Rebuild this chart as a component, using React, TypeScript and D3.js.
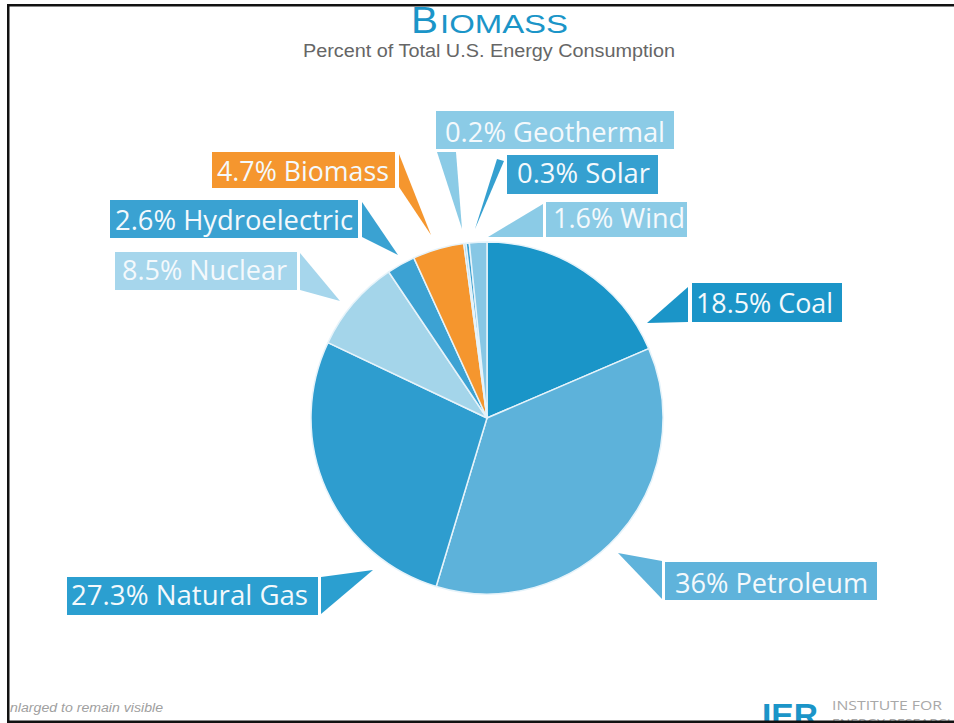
import React from "react";
import * as d3 from "d3";

const categories = ["Coal", "Petroleum", "Natural Gas", "Nuclear", "Hydroelectric", "Biomass", "Geothermal", "Solar", "Wind"];
const values = [18.5, 36, 27.3, 8.5, 2.6, 4.7, 0.2, 0.3, 1.6];
const sliceColors = ["#1a95c8", "#5db2da", "#2e9dcf", "#a4d5ea", "#3ca2d3", "#f5962e", "#8ecde8", "#3aa0d0", "#87c7e5"];
const labelColors = ["#1b95c8", "#5fb3db", "#2b9fd0", "#a6d6ec", "#3aa2d2", "#f5962e", "#8bcbe6", "#35a0d0", "#8bcbe6"];

// label layout: box, text placement, pointer polygon (base1, base2, tip)
const labelLayout = [
  { x: 692, y: 283, w: 150, h: 39, tx: 696, ty: 313, tw: 137, ptr: [[688, 287], [688, 322], [647, 323]] },
  { x: 665, y: 562, w: 212, h: 38, tx: 675, ty: 593, tw: 193, ptr: [[662, 561], [662, 599], [618, 553]] },
  { x: 67, y: 577, w: 251, h: 38, tx: 71, ty: 605, tw: 237, ptr: [[321, 577], [321, 614], [373, 570]] },
  { x: 115, y: 252, w: 182, h: 38, tx: 122, ty: 280, tw: 165, ptr: [[300, 253], [300, 290], [340, 301]] },
  { x: 110, y: 200, w: 248, h: 38, tx: 115, ty: 230, tw: 238, ptr: [[362, 202], [362, 237], [398, 255]] },
  { x: 212, y: 152, w: 183, h: 36, tx: 217, ty: 181, tw: 172, ptr: [[399, 154], [399, 187], [431, 235]] },
  { x: 436, y: 111, w: 238, h: 38, tx: 445, ty: 142, tw: 220, ptr: [[437, 152], [456, 152], [462, 229]] },
  { x: 507, y: 155, w: 151, h: 39, tx: 517, ty: 183, tw: 133, ptr: [[497, 159], [504, 161], [475, 229]] },
  { x: 546, y: 202, w: 141, h: 35, tx: 553, ty: 228, tw: 132, ptr: [[543, 204], [543, 237], [488, 237]] },
];

const W = 954;
const H = 723;
const cx = 487;
const cy = 418;
const R = 176;

export default function App() {
  const pie = d3.pie<number>().sort(null).value((d) => d).startAngle(0).endAngle(2 * Math.PI);
  const arcs = pie(values);
  const arcGen = d3.arc<d3.PieArcDatum<number>>().innerRadius(0).outerRadius(R);
  const font = "'Open Sans', 'Noto Sans', sans-serif";
  const sans = "'Liberation Sans', Arial, sans-serif";

  return (
    <svg width={W} height={H} style={{ position: "fixed", left: 0, top: 0, background: "#fff" }}>
      <rect x={0} y={0} width={W} height={H} fill="#fff" />
      {/* title */}
      <text x={411} y={33} fontFamily={sans} fontSize={37} fill="#1b95c8" textLength={27} lengthAdjust="spacingAndGlyphs">B</text>
      <text x={440} y={33} fontFamily={sans} fontSize={26} fill="#1b95c8" textLength={128} lengthAdjust="spacingAndGlyphs">IOMASS</text>
      <text x={489} y={57} textAnchor="middle" fontFamily={sans} fontSize={18} fill="#666" textLength={372} lengthAdjust="spacingAndGlyphs">Percent of Total U.S. Energy Consumption</text>

      {/* pie */}
      <g transform={`translate(${cx},${cy})`}>
        {arcs.map((a, i) => (
          <path key={categories[i]} d={arcGen(a) || ""} fill={sliceColors[i]} stroke="#e6f3fa" strokeWidth={1.5} strokeLinejoin="round" />
        ))}
      </g>

      {/* labels */}
      {labelLayout.map((L, i) => (
        <g key={"lab" + i}>
          <polygon points={L.ptr.map((p) => p.join(",")).join(" ")} fill={labelColors[i]} />
          <rect x={L.x} y={L.y} width={L.w} height={L.h} fill={labelColors[i]} />
          <text x={L.tx} y={L.ty} fontFamily={font} fontSize={27} fill="#f4f9fc" textLength={L.tw} lengthAdjust="spacingAndGlyphs">
            {`${values[i]}% ${categories[i]}`}
          </text>
        </g>
      ))}

      {/* footer */}
      <text x={10} y={712} fontFamily={sans} fontStyle="italic" fontSize={12} fill="#a0a0a0" textLength={153} lengthAdjust="spacingAndGlyphs">nlarged to remain visible</text>
      <text x={50} y={730} fontFamily={sans} fontStyle="italic" fontSize={12} fill="#a0a0a0">EIA, MER, September 2014</text>
      <text x={762} y={727} fontFamily={sans} fontWeight="bold" fontSize={33} fill="#1b95c8" textLength={56} lengthAdjust="spacingAndGlyphs">IER</text>
      <text x={832} y={710} fontFamily={font} fontSize={13} fill="#a8a8a8" textLength={110} lengthAdjust="spacingAndGlyphs">INSTITUTE FOR</text>
      <text x={832} y={728} fontFamily={font} fontSize={13} fill="#a8a8a8" textLength={125} lengthAdjust="spacingAndGlyphs">ENERGY RESEARCH</text>

      {/* frame */}
      <rect x={7} y={4} width={W - 7} height={2.5} fill="#111" />
      <rect x={7} y={4} width={2.5} height={H - 4} fill="#111" />
      <rect x={7} y={720.5} width={W - 7} height={2.5} fill="#111" />
    </svg>
  );
}
